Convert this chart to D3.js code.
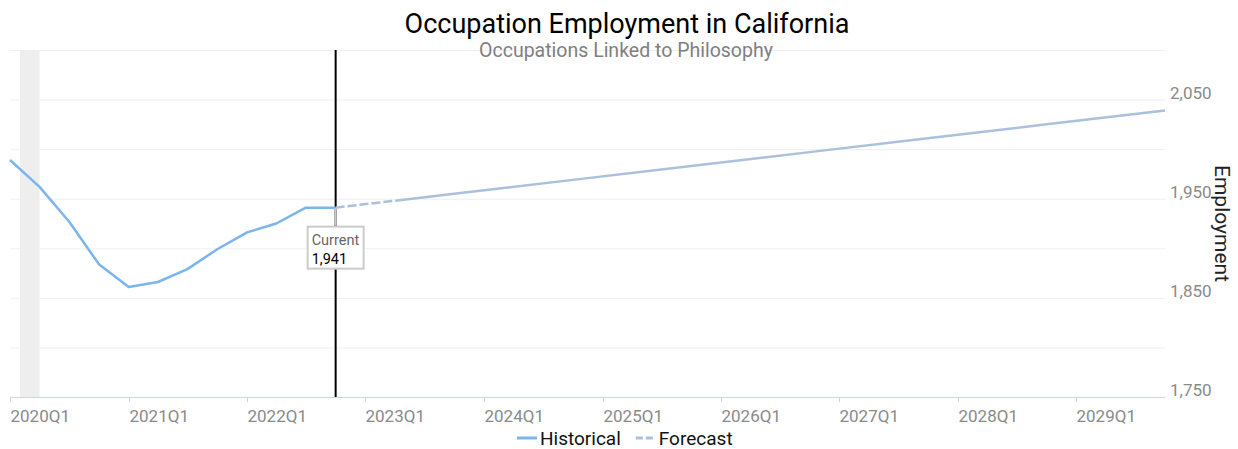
<!DOCTYPE html>
<html>
<head>
<meta charset="utf-8">
<script src="https://cdnjs.cloudflare.com/ajax/libs/d3/7.8.5/d3.min.js"></script>
<style>
  body { margin: 0; background: #fff; }
  svg { font-family: Roboto, "Noto Sans", sans-serif; display: block; }
</style>
</head>
<body>
<div id="chart"></div>
<script>
var width = 1238;
var height = 449;

// data
var histQuarters = ["2020Q1","2020Q2","2020Q3","2020Q4","2021Q1","2021Q2","2021Q3","2021Q4","2022Q1","2022Q2","2022Q3","2022Q4"];
var histValues = [1989, 1962, 1927, 1884, 1861, 1866, 1879, 1899, 1916, 1925, 1941, 1941];

var forecastQuarters = ["2022Q4","2023Q4","2024Q4","2025Q4","2026Q4","2027Q4","2028Q4","2029Q4"];
var forecastValues = [1941, 1955, 1969, 1983, 1997, 2011, 2025, 2039];

var xTickLabels = ["2020Q1","2021Q1","2022Q1","2023Q1","2024Q1","2025Q1","2026Q1","2027Q1","2028Q1","2029Q1"];
var yTicks = [1750, 1800, 1850, 1900, 1950, 2000, 2050, 2100];
var yLabelTicks = [1750, 1850, 1950, 2050];

var recession = ["2020-02-01", "2020-04-01"];
var currentQuarter = "2022Q4";
var currentValue = 1941;

function qDate(q) {
    var yr = +q.slice(0, 4), qq = +q.slice(5);
    return new Date(yr, (qq - 1) * 3, 1);
}
function parseDay(s) {
    var p = s.split("-");
    return new Date(+p[0], +p[1] - 1, +p[2]);
}

var margin = {top: 50, right: 73, bottom: 52, left: 10};
var plotW = width - margin.left - margin.right;
var plotH = height - margin.top - margin.bottom;

var x = d3.scaleTime()
    .domain([qDate("2020Q1"), qDate("2029Q4")])
    .range([margin.left, margin.left + plotW]);
var y = d3.scaleLinear()
    .domain([1750, 2100])
    .range([margin.top + plotH, margin.top]);

var svg = d3.select("#chart").append("svg")
    .attr("width", width)
    .attr("height", height);

// recession band
svg.append("rect")
    .attr("x", x(parseDay(recession[0])))
    .attr("y", margin.top)
    .attr("width", x(parseDay(recession[1])) - x(parseDay(recession[0])))
    .attr("height", plotH)
    .attr("fill", "#eeeeee");

// grid
svg.append("g").selectAll("line")
    .data(yTicks.filter(function(t) { return t > 1750; }))
    .enter().append("line")
        .attr("x1", margin.left)
        .attr("x2", margin.left + plotW)
        .attr("y1", function(d) { return y(d) + 0.5; })
        .attr("y2", function(d) { return y(d) + 0.5; })
        .attr("stroke", "#efefef")
        .attr("stroke-width", 1);

// y labels on the right
svg.append("g").selectAll("text")
    .data(yLabelTicks)
    .enter().append("text")
        .attr("x", margin.left + plotW + 5)
        .attr("y", function(d) { return y(d) - 1; })
        .attr("fill", "#8a8a8a")
        .attr("font-size", "17px")
        .text(function(d) { return d3.format(",")(d); });

svg.append("text")
    .attr("transform", "translate(" + 1215 + "," + (margin.top + plotH / 2) + ") rotate(90)")
    .attr("text-anchor", "middle")
    .attr("font-size", "21px")
    .attr("fill", "#222")
    .text("Employment");

// x axis
var xAxisY = margin.top + plotH;
svg.append("line")
    .attr("x1", margin.left)
    .attr("x2", margin.left + plotW)
    .attr("y1", xAxisY + 0.5)
    .attr("y2", xAxisY + 0.5)
    .attr("stroke", "#ccd6eb");

var xt = svg.append("g").selectAll("g")
    .data(xTickLabels)
    .enter().append("g")
        .attr("transform", function(d) { return "translate(" + (Math.round(x(qDate(d))) + 0.5) + "," + xAxisY + ")"; });
xt.append("line")
    .attr("y1", 0).attr("y2", 5)
    .attr("stroke", "#ccd6eb");
xt.append("text")
    .attr("x", 0)
    .attr("y", 25)
    .attr("fill", "#8a8a8a")
    .attr("font-size", "17px")
    .text(function(d) { return d; });

// current marker line
var cx = x(qDate(currentQuarter));
svg.append("line")
    .attr("x1", cx).attr("x2", cx)
    .attr("y1", margin.top).attr("y2", margin.top + plotH)
    .attr("stroke", "#000")
    .attr("stroke-width", 2);

// series
var line = d3.line()
    .x(function(d) { return x(qDate(d.q)); })
    .y(function(d) { return y(d.v); });

var hist = histQuarters.map(function(q, i) { return {q: q, v: histValues[i]}; });
var fc = forecastQuarters.map(function(q, i) { return {q: q, v: forecastValues[i]}; });

svg.append("path")
    .datum(fc)
    .attr("d", line)
    .attr("fill", "none")
    .attr("stroke", "#aac0dc")
    .attr("stroke-width", 2.5)
    .attr("stroke-dasharray", "9,3,9,3,9,3,9,3,9,3,5000");

svg.append("path")
    .datum(hist)
    .attr("d", line)
    .attr("fill", "none")
    .attr("stroke", "#7cb5ec")
    .attr("stroke-width", 2.5)
    .attr("stroke-linejoin", "round");

// current label
var cy = y(currentValue);
svg.append("line")
    .attr("x1", cx).attr("x2", cx)
    .attr("y1", cy).attr("y2", cy + 18)
    .attr("stroke", "#cccccc")
    .attr("stroke-width", 2);
svg.append("rect")
    .attr("x", cx - 28).attr("y", cy + 19)
    .attr("width", 56).attr("height", 42)
    .attr("fill", "#fff")
    .attr("stroke", "#cccccc")
    .attr("stroke-width", 2);
svg.append("text")
    .attr("x", cx - 24).attr("y", cy + 37)
    .attr("font-size", "14.5px")
    .attr("fill", "#666")
    .text("Current");
svg.append("text")
    .attr("x", cx - 24).attr("y", cy + 56)
    .attr("font-size", "14.5px")
    .attr("fill", "#000")
    .text(d3.format(",")(currentValue));

// titles
svg.append("text")
    .attr("x", width / 2 + 8).attr("y", 33)
    .attr("text-anchor", "middle")
    .attr("font-size", "27px")
    .attr("fill", "#000")
    .text("Occupation Employment in California");
svg.append("text")
    .attr("x", width / 2 + 7).attr("y", 57)
    .attr("text-anchor", "middle")
    .attr("font-size", "19.5px")
    .attr("fill", "#808080")
    .text("Occupations Linked to Philosophy");

// legend
var legendItems = [
    {name: "Historical", color: "#7cb5ec", dash: null},
    {name: "Forecast", color: "#aac0dc", dash: "7,3"}
];
var lg = svg.append("g");
var lx = 517;
legendItems.forEach(function(it) {
    var g = lg.append("g").attr("transform", "translate(" + lx + ",438)");
    g.append("line")
        .attr("x1", 0).attr("x2", 20)
        .attr("y1", 0).attr("y2", 0)
        .attr("stroke", it.color)
        .attr("stroke-width", 3)
        .attr("stroke-dasharray", it.dash);
    var t = g.append("text")
        .attr("x", 23).attr("y", 7)
        .attr("font-size", "19px")
        .attr("fill", "#111")
        .text(it.name);
    lx += 23 + t.node().getComputedTextLength() + 15;
});
</script>
</body>
</html>
